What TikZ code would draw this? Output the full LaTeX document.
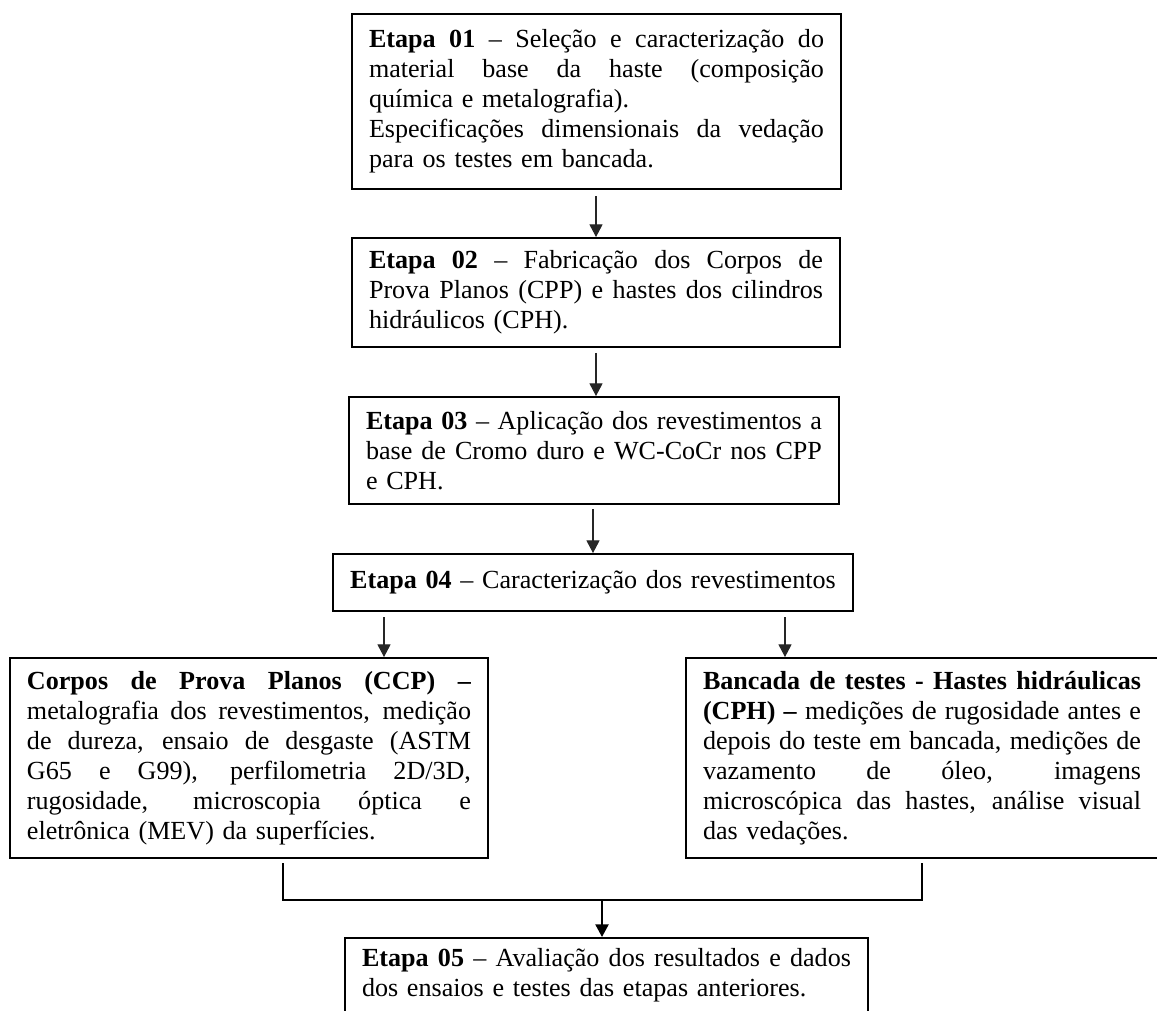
\documentclass[tikz,border=0pt]{standalone}
\usepackage{fontspec}
\setmainfont{Liberation Serif}
\usetikzlibrary{arrows.meta,calc}
\newdimen\jw
\newcommand{\jl}[1]{\leavevmode\hbox to \jw{\spaceskip=3pt plus 1fil\relax #1}\\}
\begin{document}
\begin{tikzpicture}[x=0.4598pt,y=-0.4598pt,
  box/.style={draw, line width=0.9pt, inner xsep=7.82pt, inner ysep=0pt, align=left,
    font=\fontsize{12}{13.8}\selectfont},
  arr/.style={draw=black!85, line width=0.5pt, -{Triangle[width=6pt,length=5.8pt]}},
  link/.style={line width=0.9pt}]
\useasboundingbox (0,0) rectangle (1157,1011);

\node[box, text width=209.2pt, minimum height=80.47pt] (b1) at (596.5,101.5) {%
\jw=209.2pt\relax
\jl{\textbf{Etapa 01} – Seleção e caracterização do}%
\jl{material base da haste (composição}%
química e metalografia).\\
\jl{Especificações dimensionais da vedação}%
para os testes em bancada.};

\node[box, text width=208.75pt, minimum height=50.12pt] (b2) at (596,292.5) {%
\jw=208.75pt\relax
\jl{\textbf{Etapa 02} – Fabricação dos Corpos de}%
\jl{Prova Planos (CPP) e hastes dos cilindros}%
hidráulicos (CPH).};

\node[box, text width=209.67pt, minimum height=49.2pt] (b3) at (594,450.5) {%
\jw=209.67pt\relax
\jl{\textbf{Etapa 03} – Aplicação dos revestimentos a}%
\jl{base de Cromo duro e WC-CoCr nos CPP}%
e CPH.};

\node[box, text width=223.5pt, minimum height=26.21pt, align=center] (b4) at (593,582.5) {%
\textbf{Etapa 04} – Caracterização dos revestimentos};

\node[box, text width=204.15pt, minimum height=91.96pt] (bl) at (249,758) {%
\jw=204.15pt\relax
\jl{\textbf{Corpos de Prova Planos (CCP) –}}%
\jl{metalografia dos revestimentos, medição}%
\jl{de dureza, ensaio de desgaste (ASTM}%
\jl{G65 e G99), perfilometria 2D/3D,}%
\jl{rugosidade, microscopia óptica e}%
eletrônica (MEV) da superfícies.};

\node[box, text width=201.4pt, minimum height=91.96pt] (br) at (922,758) {%
\jw=201.4pt\relax
\jl{\textbf{Bancada de testes - Hastes hidráulicas}}%
\jl{\textbf{(CPH) –} medições de rugosidade antes e}%
\jl{depois do teste em bancada, medições de}%
\jl{vazamento de óleo, imagens}%
\jl{microscópica das hastes, análise visual}%
das vedações.};

\node[box, text width=224.8pt, minimum height=34.5pt] (b5) at (606.5,975.5) {%
\jw=224.8pt\relax
\jl{\textbf{Etapa 05} – Avaliação dos resultados e dados}%
dos ensaios e testes das etapas anteriores.};

\draw[arr] ($(b2.north)+(0,-41)$) -- (b2.north);
\draw[arr] ($(b2.south)+(0,5)$) -- (b2.south |- b3.north);
\draw[arr] ($(b4.north)+(0,-44)$) -- (b4.north);

\coordinate (s4l) at (384,617);
\coordinate (s4r) at (785,617);
\draw[arr] (s4l) -- (s4l |- bl.north);
\draw[arr] (s4r) -- (s4r |- br.north);

\coordinate (ml) at (283,863);
\coordinate (mr) at (922,863);
\coordinate (mj) at (602,900);
\draw[link] (ml) -- (ml |- mj) -- (mr |- mj) -- (mr);
\draw[arr, draw=black, line width=0.9pt] (mj) -- (mj |- b5.north);
\end{tikzpicture}
\end{document}
